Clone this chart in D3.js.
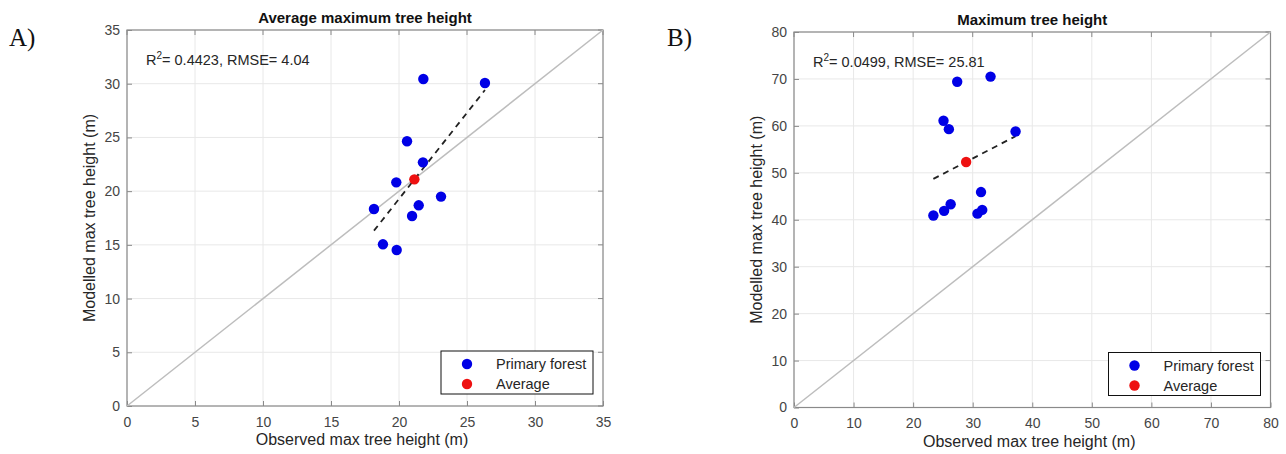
<!DOCTYPE html>
<html><head><meta charset="utf-8">
<script src="https://cdn.jsdelivr.net/npm/d3@7"></script>
<style>body{margin:0;background:#fff;} text{font-family:"Liberation Sans",Arial,sans-serif;}</style>
</head><body>
<svg id="c" width="1286" height="454"></svg>
<script>
// Panel A data
const aObsX = [21.79, 26.32, 20.59, 21.76, 19.80, 23.09, 21.45, 18.16, 20.96, 18.82, 19.83];
const aModY = [30.44, 30.07, 24.64, 22.68, 20.82, 19.49, 18.68, 18.34, 17.69, 15.05, 14.52];
const aAvg = [21.13, 21.10];
const aFitX = [18.16, 26.32];
const aFitY = [16.32, 29.41];
const aTicks = [0, 5, 10, 15, 20, 25, 30, 35];
// Panel B data
const bObsX = [33.0, 27.4, 25.1, 26.0, 37.2, 31.4, 26.3, 25.2, 31.6, 30.8, 23.4];
const bModY = [70.5, 69.4, 61.1, 59.3, 58.8, 45.9, 43.3, 41.9, 42.1, 41.3, 40.9];
const bAvg = [28.9, 52.3];
const bFitX = [23.4, 37.2];
const bFitY = [48.7, 57.8];
const bTicks = [0, 10, 20, 30, 40, 50, 60, 70, 80];

const legendLabels = ["Primary forest", "Average"];
const panels = [
  {tag:"A)", title:"Average maximum tree height", stat:"0.4423, RMSE= 4.04",
   xs:aObsX, ys:aModY, avg:aAvg, fx:aFitX, fy:aFitY, ticks:aTicks,
   left:127, right:603, top:30, bottom:406, tagX:9},
  {tag:"B)", title:"Maximum tree height", stat:"0.0499, RMSE= 25.81",
   xs:bObsX, ys:bModY, avg:bAvg, fx:bFitX, fy:bFitY, ticks:bTicks,
   left:794, right:1270.5, top:32, bottom:407.5, tagX:667}
];

const svg = d3.select("#c");
const BLUE = "#0000e6", RED = "#ee1111";

panels.forEach(p => {
  const dom = d3.extent(p.ticks);
  const x = d3.scaleLinear().domain(dom).range([p.left, p.right]);
  const y = d3.scaleLinear().domain(dom).range([p.bottom, p.top]);
  const g = svg.append("g");
  const W = p.right - p.left, H = p.bottom - p.top;

  // grid
  g.append("g").selectAll("line.gx").data(p.ticks).join("line")
    .attr("x1", d => x(d)).attr("x2", d => x(d)).attr("y1", p.top).attr("y2", p.bottom)
    .attr("stroke", "#e8e8e8").attr("stroke-width", 1);
  g.append("g").selectAll("line.gy").data(p.ticks).join("line")
    .attr("y1", d => y(d)).attr("y2", d => y(d)).attr("x1", p.left).attr("x2", p.right)
    .attr("stroke", "#e8e8e8").attr("stroke-width", 1);

  // axes
  const ax = g.append("g").attr("transform", `translate(0,${p.bottom})`)
    .call(d3.axisBottom(x).tickValues(p.ticks).tickSize(-5).tickPadding(11).tickFormat(d3.format("d")));
  const ay = g.append("g").attr("transform", `translate(${p.left},0)`)
    .call(d3.axisLeft(y).tickValues(p.ticks).tickSize(-5).tickPadding(7).tickFormat(d3.format("d")));
  [ax, ay].forEach(a => {
    a.select(".domain").remove();
    a.selectAll(".tick line").attr("stroke", "#8a8a8a");
    a.selectAll(".tick text").attr("fill", "#454545").style("font-size", "14px")
      .style("font-family", "'Liberation Sans',Arial,sans-serif");
  });
  // top/right ticks
  g.append("g").selectAll("line").data(p.ticks).join("line")
    .attr("x1", d => x(d)).attr("x2", d => x(d)).attr("y1", p.top).attr("y2", p.top + 5)
    .attr("stroke", "#8a8a8a");
  g.append("g").selectAll("line").data(p.ticks).join("line")
    .attr("y1", d => y(d)).attr("y2", d => y(d)).attr("x1", p.right).attr("x2", p.right - 5)
    .attr("stroke", "#8a8a8a");
  g.append("rect").attr("x", p.left).attr("y", p.top).attr("width", W).attr("height", H)
    .attr("fill", "none").attr("stroke", "#8a8a8a").attr("stroke-width", 1.2);

  // 1:1 line
  g.append("line").attr("x1", x(dom[0])).attr("y1", y(dom[0])).attr("x2", x(dom[1])).attr("y2", y(dom[1]))
    .attr("stroke", "#bdbdbd").attr("stroke-width", 1.5);

  // fit line
  g.append("line").attr("x1", x(p.fx[0])).attr("y1", y(p.fy[0])).attr("x2", x(p.fx[1])).attr("y2", y(p.fy[1]))
    .attr("stroke", "#222").attr("stroke-width", 1.8).attr("stroke-dasharray", "6,5");

  // points
  g.append("g").selectAll("circle").data(p.xs.map((v, i) => [v, p.ys[i]])).join("circle")
    .attr("cx", d => x(d[0])).attr("cy", d => y(d[1])).attr("r", 5.2).attr("fill", BLUE);
  g.append("circle").attr("cx", x(p.avg[0])).attr("cy", y(p.avg[1])).attr("r", 5.2).attr("fill", RED);

  // stat text
  const st = g.append("text").attr("x", p.left + 19).attr("y", p.top + 35)
    .attr("fill", "#262626").style("font-size", "14.5px");
  st.append("tspan").text("R");
  st.append("tspan").attr("dy", -6).style("font-size", "10px").text("2");
  st.append("tspan").attr("dy", 6).text("= " + p.stat);

  // title
  g.append("text").attr("x", (p.left + p.right) / 2).attr("y", p.top - 7).attr("text-anchor", "middle")
    .attr("font-weight", "bold").attr("fill", "#111").style("font-size", "15px").text(p.title);
  // axis labels
  g.append("text").attr("x", (p.left + p.right) / 2 - 3).attr("y", p.bottom + 39).attr("text-anchor", "middle")
    .attr("fill", "#262626").style("font-size", "16px").text("Observed max tree height (m)");
  g.append("text").attr("transform", `translate(${p.left - 32},${(p.top + p.bottom) / 2}) rotate(-90)`)
    .attr("text-anchor", "middle").attr("fill", "#262626").style("font-size", "16px").text("Modelled max tree height (m)");

  // panel tag
  g.append("text").attr("x", p.tagX).attr("y", 46).attr("fill", "#111")
    .style("font-family", "'Liberation Serif','Times New Roman',serif").style("font-size", "25px").text(p.tag);

  // legend
  const lx = p.right - 162, ly = p.bottom - 55;
  const lg = g.append("g");
  lg.append("rect").attr("x", lx).attr("y", ly).attr("width", 152).attr("height", 43)
    .attr("fill", "#fff").attr("stroke", "#111").attr("stroke-width", 1);
  legendLabels.forEach((t, i) => {
    lg.append("circle").attr("cx", lx + 26).attr("cy", ly + 13 + i * 20).attr("r", 5.2).attr("fill", i ? RED : BLUE);
    lg.append("text").attr("x", lx + 55).attr("y", ly + 18 + i * 20).attr("fill", "#262626")
      .style("font-size", "14.5px").text(t);
  });
});
</script>
</body></html>
